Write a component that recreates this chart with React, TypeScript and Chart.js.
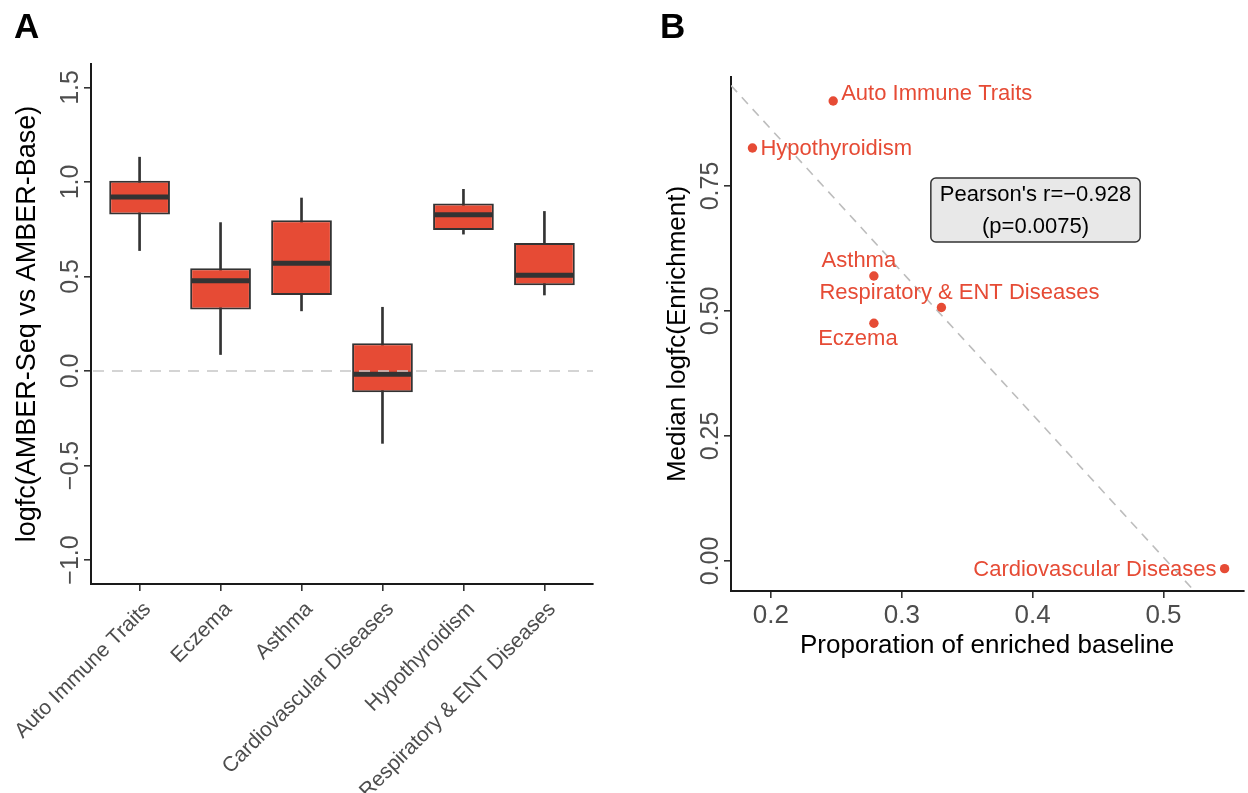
import React, { useEffect, useRef } from 'react';
import { Chart, registerables } from 'chart.js';
Chart.register(...registerables);

// ---------- Panel A data ----------
const categories = ['Auto Immune Traits', 'Eczema', 'Asthma', 'Cardiovascular Diseases', 'Hypothyroidism', 'Respiratory & ENT Diseases'];
const whiskerLow = [0.637, 0.087, 0.318, -0.383, 0.724, 0.402];
const q1 = [0.828, 0.325, 0.402, -0.112, 0.746, 0.454];
const medians = [0.921, 0.477, 0.570, -0.018, 0.826, 0.507];
const q3 = [1.006, 0.544, 0.797, 0.146, 0.886, 0.677];
const whiskerHigh = [1.131, 0.785, 0.915, 0.337, 0.961, 0.844];
const yTicksA = [-1.0, -0.5, 0.0, 0.5, 1.0, 1.5];

// ---------- Panel B data ----------
const scatterNames = ['Auto Immune Traits', 'Hypothyroidism', 'Asthma', 'Respiratory & ENT Diseases', 'Eczema', 'Cardiovascular Diseases'];
const proportion = [0.2476, 0.1859, 0.2787, 0.3303, 0.2787, 0.5467];
const medianLogfc = [0.920, 0.826, 0.570, 0.507, 0.4755, -0.0153];
const xTicksB = [0.2, 0.3, 0.4, 0.5];
const yTicksB = [0.0, 0.25, 0.5, 0.75];
const trendX = [0.1695, 0.524];
const trendY = [0.951, -0.0613];
const pearsonLines = ["Pearson's r=\u22120.928", '(p=0.0075)'];
const pearsonAt = [0.4022, 0.702];

// ---------- styling / layout ----------
const FONT = "'Liberation Sans', Arial, Helvetica, sans-serif";
const RED = '#E64B35';
const DARK = '#333333';
const TICK_GRAY = '#4D4D4D';
const TICK_LEN = 7;
const labelLayout = [
  { dx: 8, dy: -7, align: 'left' },
  { dx: 8, dy: 1, align: 'left' },
  { dx: -15, dy: -15, align: 'center' },
  { dx: 18, dy: -15, align: 'center' },
  { dx: -16, dy: 16, align: 'center' },
  { dx: -8, dy: 1, align: 'right' },
];

function rotatedYLabels(fmt: (v: number) => string) {
  return {
    id: 'rotY',
    afterDraw(chart: any) {
      const s = chart.scales.y;
      const ctx = chart.ctx;
      ctx.save();
      ctx.font = `25px ${FONT}`;
      ctx.fillStyle = TICK_GRAY;
      ctx.textAlign = 'center';
      ctx.textBaseline = 'alphabetic';
      for (const t of s.ticks) {
        const y = s.getPixelForValue(t.value);
        ctx.save();
        ctx.translate(chart.chartArea.left - TICK_LEN - 6, y);
        ctx.rotate(-Math.PI / 2);
        ctx.fillText(fmt(t.value), 0, 0);
        ctx.restore();
      }
      ctx.restore();
    },
  };
}

function panelLetter(letter: string, x: number) {
  return {
    id: 'letter' + letter,
    afterDraw(chart: any) {
      const ctx = chart.ctx;
      ctx.save();
      ctx.font = `bold 35px ${FONT}`;
      ctx.fillStyle = '#000';
      ctx.textAlign = 'left';
      ctx.textBaseline = 'alphabetic';
      ctx.fillText(letter, x, 38);
      ctx.restore();
    },
  };
}

const boxDecor = {
  id: 'boxDecor',
  afterDatasetsDraw(chart: any) {
    const meta = chart.getDatasetMeta(0);
    const y = chart.scales.y;
    const ctx = chart.ctx;
    ctx.save();
    ctx.strokeStyle = DARK;
    ctx.lineWidth = 5;
    meta.data.forEach((el: any, i: number) => {
      const py = y.getPixelForValue(medians[i]);
      ctx.beginPath();
      ctx.moveTo(el.x - el.width / 2 + 1, py);
      ctx.lineTo(el.x + el.width / 2 - 1, py);
      ctx.stroke();
    });
    const z = y.getPixelForValue(0);
    ctx.strokeStyle = '#c6c6c6';
    ctx.lineWidth = 1.6;
    ctx.setLineDash([11, 8]);
    ctx.beginPath();
    ctx.moveTo(chart.chartArea.left + 2, z);
    ctx.lineTo(chart.chartArea.right, z);
    ctx.stroke();
    ctx.restore();
  },
};

const scatterLabels = {
  id: 'scatterLabels',
  afterDatasetsDraw(chart: any) {
    const meta = chart.getDatasetMeta(1);
    const ctx = chart.ctx;
    ctx.save();
    ctx.font = `22px ${FONT}`;
    ctx.fillStyle = RED;
    ctx.textBaseline = 'middle';
    meta.data.forEach((el: any, i: number) => {
      const l = labelLayout[i];
      ctx.textAlign = l.align;
      ctx.fillText(scatterNames[i], el.x + l.dx, el.y + l.dy);
    });
    ctx.restore();
  },
};

const pearsonBox = {
  id: 'pearsonBox',
  afterDatasetsDraw(chart: any) {
    const ctx = chart.ctx;
    const cx = chart.scales.x.getPixelForValue(pearsonAt[0]);
    const cy = chart.scales.y.getPixelForValue(pearsonAt[1]);
    ctx.save();
    ctx.font = `22px ${FONT}`;
    const w = Math.max(...pearsonLines.map((t) => ctx.measureText(t).width)) + 18;
    const lh = 31.5;
    const h = 64;
    ctx.beginPath();
    (ctx as any).roundRect(cx - w / 2, cy - h / 2, w, h, 5);
    ctx.fillStyle = '#e8e8e8';
    ctx.fill();
    ctx.strokeStyle = DARK;
    ctx.lineWidth = 1.5;
    ctx.stroke();
    ctx.fillStyle = '#000';
    ctx.textAlign = 'center';
    ctx.textBaseline = 'middle';
    pearsonLines.forEach((t, i) => {
      ctx.fillText(t, cx, cy - lh / 2 + i * lh + 1);
    });
    ctx.restore();
  },
};

const axisGrid = {
  display: true,
  drawOnChartArea: false,
  drawTicks: true,
  tickLength: TICK_LEN,
  color: DARK,
  lineWidth: 1.6,
  offset: false,
};
const axisBorder = { display: true, color: '#1a1a1a', width: 2 };

function configA(): any {
  return {
    type: 'bar',
    data: {
      datasets: [
        {
          label: 'box',
          data: categories.map((_, i) => ({ x: i + 1, y: [q1[i], q3[i]] })),
          backgroundColor: RED,
          borderColor: DARK,
          borderWidth: 2,
          borderSkipped: false,
          barPercentage: 0.75,
          categoryPercentage: 1,
          grouped: false,
          order: 1,
        },
        {
          label: 'whisker',
          data: categories.map((_, i) => ({ x: i + 1, y: [whiskerLow[i], whiskerHigh[i]] })),
          backgroundColor: DARK,
          barThickness: 2,
          grouped: false,
          order: 2,
        },
      ],
    },
    options: {
      responsive: false,
      animation: false,
      devicePixelRatio: 1,
      layout: { padding: { top: 64, right: 27, left: 0, bottom: 0 } },
      plugins: { legend: { display: false }, tooltip: { enabled: false } },
      scales: {
        x: {
          type: 'linear',
          min: 0.4,
          max: 6.6,
          offset: false,
          grid: axisGrid,
          border: axisBorder,
          afterBuildTicks: (s: any) => {
            s.ticks = categories.map((_, i) => ({ value: i + 1 }));
          },
          afterFit: (s: any) => {
            s.height = 793 - 584;
            s.paddingLeft = 0;
            s.paddingRight = 0;
          },
          ticks: {
            autoSkip: false,
            minRotation: 45,
            maxRotation: 45,
            padding: 6,
            labelOffset: 8,
            color: TICK_GRAY,
            font: { family: FONT, size: 21 },
            callback: (v: number) => categories[Math.round(v) - 1],
          },
        },
        y: {
          type: 'linear',
          min: -1.127,
          max: 1.624,
          grid: axisGrid,
          border: axisBorder,
          afterBuildTicks: (s: any) => {
            s.ticks = yTicksA.map((v) => ({ value: v }));
          },
          afterFit: (s: any) => {
            s.width = 91;
            s.paddingTop = 0;
            s.paddingBottom = 0;
          },
          ticks: { display: false },
          title: {
            display: true,
            text: 'logfc(AMBER-Seq vs AMBER-Base)',
            color: '#000',
            font: { family: FONT, size: 27 },
            padding: { top: 11, bottom: 0 },
          },
        },
      },
    },
    plugins: [boxDecor, rotatedYLabels((v) => v.toFixed(1).replace('-', '\u2212')), panelLetter('A', 14)],
  };
}

function configB(): any {
  return {
    type: 'scatter',
    data: {
      datasets: [
        {
          label: 'trend',
          data: trendX.map((x, i) => ({ x, y: trendY[i] })),
          showLine: true,
          borderColor: '#bdbdbd',
          borderWidth: 1.6,
          borderDash: [9, 7],
          pointRadius: 0,
          order: 2,
        },
        {
          label: 'points',
          data: proportion.map((x, i) => ({ x, y: medianLogfc[i] })),
          backgroundColor: RED,
          borderWidth: 0,
          pointRadius: 4.7,
          order: 1,
        },
      ],
    },
    options: {
      responsive: false,
      animation: false,
      devicePixelRatio: 1,
      layout: { padding: { top: 77, right: 3, left: 0, bottom: 0 } },
      plugins: { legend: { display: false }, tooltip: { enabled: false } },
      scales: {
        x: {
          type: 'linear',
          min: 0.1695,
          max: 0.561,
          grid: axisGrid,
          border: axisBorder,
          afterBuildTicks: (s: any) => {
            s.ticks = xTicksB.map((v) => ({ value: v }));
          },
          afterFit: (s: any) => {
            s.height = 793 - 591;
            s.paddingLeft = 0;
            s.paddingRight = 0;
          },
          ticks: {
            autoSkip: false,
            maxRotation: 0,
            padding: 2,
            color: TICK_GRAY,
            font: { family: FONT, size: 26 },
            callback: (v: number) => v.toFixed(1),
          },
          title: {
            display: true,
            text: 'Proporation of enriched baseline',
            color: '#000',
            font: { family: FONT, size: 26 },
            padding: { top: 0, bottom: 132 },
          },
        },
        y: {
          type: 'linear',
          min: -0.06,
          max: 0.968,
          grid: axisGrid,
          border: axisBorder,
          afterBuildTicks: (s: any) => {
            s.ticks = yTicksB.map((v) => ({ value: v }));
          },
          afterFit: (s: any) => {
            s.width = 111;
            s.paddingTop = 0;
            s.paddingBottom = 0;
          },
          ticks: { display: false },
          title: {
            display: true,
            text: 'Median logfc(Enrichment)',
            color: '#000',
            font: { family: FONT, size: 26 },
            padding: { top: 42, bottom: 0 },
          },
        },
      },
    },
    plugins: [scatterLabels, pearsonBox, rotatedYLabels((v) => v.toFixed(2)), panelLetter('B', 40)],
  };
}

export default function App() {
  const refA = useRef<HTMLCanvasElement>(null);
  const refB = useRef<HTMLCanvasElement>(null);
  useEffect(() => {
    document.body.style.margin = '0';
    const a = new Chart(refA.current as HTMLCanvasElement, configA());
    const b = new Chart(refB.current as HTMLCanvasElement, configB());
    return () => {
      a.destroy();
      b.destroy();
    };
  }, []);
  return (
    <div style={{ position: 'relative', width: 1248, height: 793, background: '#fff' }}>
      <canvas ref={refA} width={620} height={793} style={{ position: 'absolute', left: 0, top: 0 }} />
      <canvas ref={refB} width={628} height={793} style={{ position: 'absolute', left: 620, top: 0 }} />
    </div>
  );
}
